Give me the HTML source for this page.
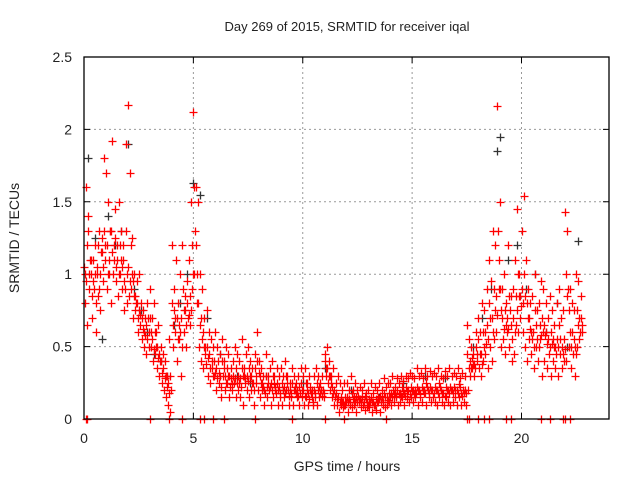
<!DOCTYPE html>
<html><head><meta charset="utf-8"><style>
body{margin:0;background:#fff}
svg{display:block;font-family:"Liberation Sans",sans-serif}
</style></head><body>
<svg id="chart" width="640" height="480" viewBox="0 0 640 480">
<rect width="640" height="480" fill="#fff"/>
<text x="347" y="31" text-anchor="middle" font-size="13" fill="#222">Day 269 of 2015, SRMTID for receiver iqal</text>
<text x="347" y="471" text-anchor="middle" font-size="14" fill="#222">GPS time / hours</text>
<text transform="translate(19,238) rotate(-90)" text-anchor="middle" font-size="14" fill="#222">SRMTID / TECUs</text>
<g id="grid"></g>
<g id="ticks"></g>
<g id="black"></g>
<g id="red"></g>
<rect x="84" y="57" width="525" height="362" fill="none" stroke="#000" stroke-width="1.3"/>
</svg>
<script>
const xTicks=[0,5,10,15,20];
const yTicks=[0,0.5,1,1.5,2,2.5];
const yTickLabels=["0","0.5","1","1.5","2","2.5"];
const redA=[1.05,1.6,1.3,1.1,0.95,1.2,1.0,1.3,1.15,1.8,1.7,1.5,1.3,1.92,1.45,1.2,1.5,1.3,1.1,1.9,2.17,1.7,1.25,1.0,0.95,1.0,0.8,0.75,0.7,0.8,0.9,0.7,0.8,0.6,0.65,0.5,0.45,0.4,0.3,0.55,1.2,0.9,1.1,0.8,1.0,1.2,0.85,0.95,1.1,1.5,2.12,1.6,1.5,1.0,0.9,0.7,0.75,0.6,0.55,0.5,0.6,0.5,0.45,0.55,0.4,0.5,0.45,0.35,0.4,0.5,0.45,0.4,0.55,0.35,0.45,0.5,0.4,0.35,0.45,0.6,0.4,0.35,0.3,0.45,0.3,0.35,0.4,0.3,0.35,0.3,0.35,0.3,0.4,0.3,0.25,0.35,0.3,0.25,0.3,0.35,0.3,0.35,0.25,0.3,0.2,0.3,0.35,0.3,0.25,0.3,0.45,0.5,0.4,0.3,0.35,0.25,0.3,0.25,0.2,0.25,0.25,0.2,0.3,0.2,0.25,0.2,0.22,0.2,0.25,0.18,0.2,0.25,0.18,0.22,0.2,0.25,0.2,0.28,0.22,0.25,0.25,0.3,0.22,0.28,0.25,0.3,0.26,0.3,0.28,0.32,0.3,0.28,0.35,0.3,0.32,0.28,0.35,0.3,0.33,0.3,0.32,0.3,0.35,0.3,0.28,0.33,0.3,0.35,0.3,0.32,0.3,0.35,0.28,0.32,0.3,0.65,0.55,0.5,0.45,0.6,0.7,0.6,0.8,0.75,0.9,1.1,0.95,1.3,1.2,2.16,1.5,0.9,1.0,0.8,1.2,0.85,0.9,1.1,1.45,1.0,1.3,1.54,1.1,0.9,0.8,0.85,1.0,0.75,0.8,0.95,0.9,0.8,0.7,0.85,0.75,0.65,0.8,0.9,0.7,0.75,1.43,1.3,0.9,0.8,0.75,1.0,0.95,0.85];
const redB=[0.8,0.65,1.0,0.7,0.9,0.6,0.85,0.75,0.95,1.1,0.9,1.0,0.8,1.1,0.95,0.85,1.0,0.9,0.75,0.8,0.85,0.9,0.7,0.75,0.6,0.65,0.55,0.5,0.45,0.5,0.5,0.4,0.45,0.35,0.3,0.25,0.2,0.15,0.1,0.05,0.5,0.6,0.4,0.55,0.3,0.6,0.5,0.7,0.65,0.9,1.0,0.8,0.5,0.4,0.35,0.5,0.3,0.25,0.4,0.3,0.2,0.25,0.15,0.3,0.2,0.25,0.15,0.2,0.25,0.15,0.2,0.15,0.1,0.25,0.2,0.15,0.2,0.1,0.25,0.2,0.15,0.2,0.1,0.15,0.2,0.1,0.15,0.2,0.1,0.15,0.1,0.15,0.2,0.1,0.15,0.1,0.2,0.15,0.1,0.15,0.1,0.15,0.1,0.2,0.1,0.15,0.1,0.15,0.2,0.15,0.3,0.25,0.2,0.15,0.1,0.1,0.05,0.1,0.08,0.1,0.05,0.1,0.08,0.1,0.05,0.12,0.08,0.1,0.06,0.08,0.08,0.05,0.1,0.06,0.12,0.05,0.1,0.08,0.1,0.12,0.1,0.12,0.15,0.1,0.12,0.15,0.1,0.14,0.12,0.15,0.12,0.15,0.1,0.15,0.12,0.18,0.1,0.15,0.12,0.15,0.12,0.1,0.15,0.12,0.1,0.15,0.12,0.1,0.12,0.15,0.1,0.15,0.1,0.12,0.1,0.2,0.3,0.35,0.3,0.4,0.35,0.3,0.4,0.45,0.35,0.5,0.4,0.55,0.6,0.9,0.5,0.55,0.45,0.6,0.5,0.4,0.45,0.65,0.6,0.7,0.6,0.5,0.4,0.55,0.45,0.35,0.5,0.4,0.55,0.3,0.4,0.35,0.45,0.3,0.4,0.35,0.3,0.45,0.35,0.4,0.4,0.5,0.35,0.45,0.3,0.5,0.55,0.6];
const redC=[1.0,1.2,0.9,1.0,1.1,0.8,1.2,1.0,1.25,1.3,1.2,1.1,1.3,1.0,1.25,1.1,1.2,1.05,0.95,1.3,1.05,1.2,0.95,0.85,0.8,0.75,0.7,0.6,0.65,0.7,0.7,0.55,0.6,0.5,0.45,0.4,0.35,0.3,0.25,0.3,0.8,0.75,0.7,0.65,0.7,0.9,0.75,0.8,0.85,1.2,1.6,1.2,0.8,0.7,0.6,0.45,0.5,0.45,0.35,0.4,0.35,0.4,0.3,0.4,0.3,0.35,0.3,0.28,0.3,0.35,0.3,0.28,0.35,0.3,0.3,0.35,0.3,0.25,0.35,0.4,0.3,0.25,0.2,0.3,0.25,0.25,0.3,0.22,0.25,0.22,0.25,0.22,0.3,0.2,0.2,0.25,0.22,0.2,0.22,0.25,0.2,0.25,0.18,0.22,0.15,0.2,0.25,0.22,0.2,0.2,0.4,0.35,0.3,0.22,0.2,0.18,0.15,0.15,0.12,0.15,0.15,0.14,0.18,0.15,0.15,0.16,0.14,0.15,0.16,0.12,0.14,0.15,0.12,0.14,0.15,0.16,0.15,0.18,0.15,0.18,0.18,0.2,0.18,0.2,0.18,0.22,0.18,0.22,0.2,0.22,0.2,0.2,0.22,0.2,0.22,0.2,0.25,0.2,0.22,0.2,0.22,0.2,0.25,0.2,0.18,0.22,0.2,0.22,0.2,0.22,0.2,0.24,0.18,0.2,0.2,0.45,0.4,0.42,0.38,0.5,0.55,0.45,0.6,0.6,0.65,0.8,0.7,0.9,0.85,1.3,0.9,0.7,0.75,0.7,0.85,0.65,0.7,0.85,1.0,0.85,0.9,1.0,0.8,0.7,0.6,0.6,0.75,0.55,0.65,0.7,0.65,0.6,0.55,0.6,0.55,0.5,0.55,0.65,0.5,0.55,1.0,0.9,0.6,0.6,0.5,0.75,0.7,0.7];
const redD=[0.95,1.4,1.1,0.85,1.0,1.05,0.9,1.15,1.05,1.2,1.0,1.3,1.15,1.2,1.05,1.0,1.1,1.2,0.9,1.0,0.95,1.0,0.85,0.8,0.7,0.72,0.62,0.58,0.55,0.6,0.6,0.48,0.5,0.42,0.4,0.32,0.28,0.22,0.18,0.2,0.65,0.7,0.55,0.6,0.5,0.75,0.65,0.72,0.75,1.0,1.3,1.0,0.65,0.55,0.5,0.38,0.42,0.35,0.3,0.32,0.28,0.32,0.22,0.35,0.25,0.3,0.22,0.24,0.28,0.25,0.25,0.22,0.3,0.28,0.26,0.3,0.25,0.2,0.3,0.32,0.25,0.22,0.18,0.22,0.22,0.2,0.24,0.18,0.2,0.18,0.2,0.18,0.25,0.16,0.18,0.2,0.18,0.16,0.18,0.2,0.16,0.2,0.14,0.18,0.12,0.18,0.2,0.18,0.16,0.18,0.35,0.3,0.25,0.18,0.15,0.14,0.12,0.12,0.1,0.12,0.12,0.12,0.14,0.12,0.12,0.14,0.12,0.12,0.14,0.1,0.12,0.12,0.1,0.12,0.14,0.12,0.12,0.15,0.13,0.15,0.15,0.17,0.16,0.17,0.16,0.19,0.16,0.19,0.17,0.19,0.17,0.18,0.2,0.17,0.2,0.18,0.22,0.18,0.2,0.18,0.2,0.18,0.22,0.18,0.16,0.2,0.18,0.2,0.18,0.2,0.18,0.22,0.16,0.18,0.18,0.35,0.35,0.38,0.35,0.45,0.45,0.38,0.5,0.52,0.55,0.7,0.6,0.75,0.72,1.1,0.75,0.62,0.65,0.62,0.75,0.55,0.6,0.75,0.85,0.78,0.8,0.85,0.7,0.62,0.55,0.5,0.65,0.5,0.58,0.6,0.58,0.52,0.5,0.52,0.5,0.45,0.5,0.55,0.45,0.48,0.85,0.75,0.5,0.55,0.45,0.65,0.6,0.65];
const zeroT=[0.1,0.15,3.0,3.9,4.5,5.3,5.5,5.9,6.4,7.8,9.5,11.0,11.9,13.8,17.5,17.6,18.0,18.3,18.5,19.3,19.5,20.9,21.3,21.9,22.0,22.2];
const blackT=[0.2,0.5,0.8,1.1,1.4,1.7,2.0,2.3,2.6,2.9,3.2,3.5,3.8,4.1,4.4,4.7,5.0,5.3,5.6,6.2,7.0,7.6,8.3,9.1,10.0,11.0,12.2,13.5,14.6,15.6,16.5,17.8,18.2,18.6,18.9,19.0,19.4,19.8,20.2,20.6,21.1,21.6,22.1,22.6];
const blackV=[1.8,1.25,0.55,1.4,1.2,1.3,1.9,0.9,0.75,0.6,0.45,0.4,0.3,0.65,0.8,1.0,1.63,1.55,0.7,0.45,0.3,0.25,0.3,0.2,0.25,0.35,0.2,0.15,0.25,0.3,0.28,0.5,0.7,0.9,1.85,1.95,1.1,1.2,0.9,1.0,0.6,0.8,0.5,1.23];
const X0=84,X1=609,Y0=419,Y1=57;
function xs(t){return X0+(t/24)*(X1-X0);}
function ys(v){return Y0-(v/2.5)*(Y0-Y1);}
const NS="http://www.w3.org/2000/svg";
const grid=document.getElementById('grid'),ticks=document.getElementById('ticks');
xTicks.forEach(function(t){
  const x=xs(t);
  if(t>0){const l=document.createElementNS(NS,'line');
  
  
  l.setAttribute('x1',x);l.setAttribute('x2',x);l.setAttribute('y1',Y1);l.setAttribute('y2',Y0);
  l.setAttribute('stroke','#999');l.setAttribute('stroke-dasharray','2,3');grid.appendChild(l);}
  const m=document.createElementNS(NS,'path');
  
  
  m.setAttribute('d','M'+x+' '+Y0+'v-6M'+x+' '+Y1+'v6');m.setAttribute('stroke','#000');ticks.appendChild(m);
  const tx=document.createElementNS(NS,'text');
  
  
  tx.setAttribute('x',x);tx.setAttribute('y',443);tx.setAttribute('text-anchor','middle');tx.setAttribute('font-size','14');tx.setAttribute('fill','#222');
  tx.textContent=String(t);ticks.appendChild(tx);
});
yTicks.forEach(function(v,i){
  const y=ys(v);
  if(v>0&&v<2.5){const l=document.createElementNS(NS,'line');
  
  
  l.setAttribute('x1',X0);l.setAttribute('x2',X1);l.setAttribute('y1',y);l.setAttribute('y2',y);
  l.setAttribute('stroke','#999');l.setAttribute('stroke-dasharray','2,3');grid.appendChild(l);}
  const m=document.createElementNS(NS,'path');
  
  
  m.setAttribute('d','M'+X0+' '+y+'h6M'+X1+' '+y+'h-6');m.setAttribute('stroke','#000');ticks.appendChild(m);
  const tx=document.createElementNS(NS,'text');
  
  
  tx.setAttribute('x',72);tx.setAttribute('y',y+5);tx.setAttribute('text-anchor','end');tx.setAttribute('font-size','14');tx.setAttribute('fill','#222');
  tx.textContent=yTickLabels[i];ticks.appendChild(tx);
});
function plus(g,t,v,color,name){
  const x=Math.round(xs(t))+0.5,y=Math.round(ys(v))+0.5;
  const p=document.createElementNS(NS,'path');
  
  
  p.setAttribute('d','M'+(x-4)+' '+y+'h8M'+x+' '+(y-4)+'v8');
  p.setAttribute('stroke',color);p.setAttribute('stroke-width','1.3');
  g.appendChild(p);
}
const gb=document.getElementById('black'),gr=document.getElementById('red');
blackT.forEach(function(t,i){plus(gb,t,blackV[i],'#333','black-point');});
redA.forEach(function(v,i){plus(gr,i*0.1,v,'#ff0000','red-point');});
redB.forEach(function(v,i){plus(gr,i*0.1+0.05,v,'#ff0000','red-point');});
redC.forEach(function(v,i){plus(gr,i*0.1+0.03,v,'#ff0000','red-point');});
redD.forEach(function(v,i){plus(gr,i*0.1+0.08,v,'#ff0000','red-point');});
zeroT.forEach(function(t){plus(gr,t,0,'#ff0000','red-zero-point');});
</script>
</body></html>
